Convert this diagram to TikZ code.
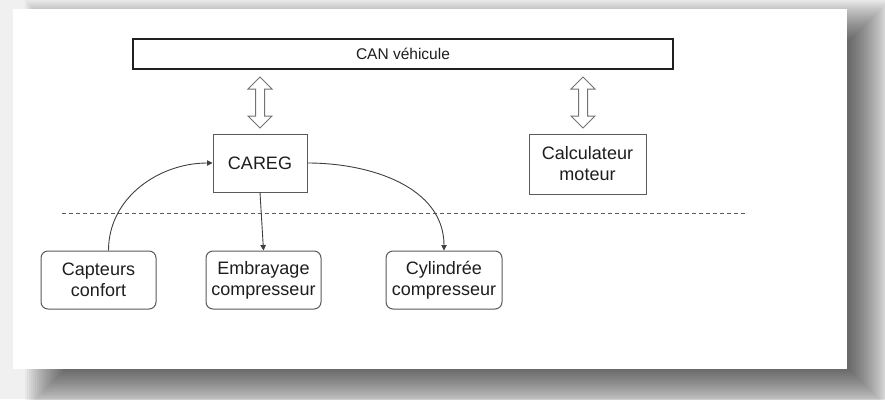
\documentclass[tikz,border=0pt]{standalone}
\usepackage{fontspec}
\setmainfont{Liberation Sans}
\usepackage{xcolor}
\definecolor{cLine}{HTML}{5A5A5A}
\definecolor{cText}{HTML}{1E1E1E}
\definecolor{cBus}{HTML}{202020}
\definecolor{cBack}{HTML}{F0F0F0}
\usetikzlibrary{arrows.meta,shapes.arrows}
\tikzset{
  node-box/.style={draw=cLine,line width=1pt,inner sep=0pt,
    minimum width=94pt,minimum height=58pt,align=center,text=cText,
    font=\fontsize{18}{21}\selectfont},
  node-round/.style={node-box,rounded corners=7pt,minimum width=115pt},
  node-bus/.style={draw=cBus,line width=1.8pt,inner sep=0pt,
    minimum width=540pt,minimum height=30pt,text=cText,
    font=\fontsize{15.5}{18}\selectfont},
  node-link/.style={double arrow,draw=cLine!85,line width=1pt,fill=white,
    inner xsep=0pt,inner ysep=4pt,rotate=90,minimum height=51pt,
    minimum width=23pt,double arrow head extend=7.5pt},
  arrow/.style={-{Triangle[length=5.5pt,width=5.5pt]},line width=0.9pt,draw=cText!85},
  sep-line/.style={dash pattern=on 4pt off 3pt,draw=cLine,line width=0.8pt},
}

\begin{document}
\begin{tikzpicture}[x=1pt,y=-1pt]
  \useasboundingbox (0,0) rectangle (885,399);
  % fond et ombre de la page
  \fill[cBack] (0,0) rectangle (885,399);
  \foreach \i in {0,2,...,40}
    \fill[black,opacity=0.034] (25+\i,0+\i) rectangle (890-\i,410-\i);
  \fill[white] (13,9) rectangle (847,369);

  \node[node-bus] (can) at (403,54) {CAN véhicule};
  \node[node-box] (careg) at (260,163) {CAREG};
  \node[node-box,minimum width=117pt,minimum height=60pt] (calc) at (587.5,164)
    {Calculateur\\moteur};
  \node[node-link] (lcareg) at (260,102.5) {};
  \node[node-link] (lcalc) at (583,102.5) {};

  \coordinate (sepL) at (62,213);
  \coordinate (sepR) at (747,213);
  \draw[sep-line] (sepL) -- (sepR);

  \node[node-round] (capt) at (98.5,280) {Capteurs\\confort};
  \node[node-round] (embr) at (263.5,280) {Embrayage\\compresseur};
  \node[node-round,minimum width=116pt] (cyl) at (444,280) {Cylindrée\\compresseur};

  \draw[arrow] ([xshift=10pt]capt.north) to[out=90,in=180] (careg.west);
  \draw[arrow] (careg.south) -- (embr.north);
  \draw[arrow] (careg.east) to[out=0,in=90] (cyl.north);
\end{tikzpicture}
\end{document}
